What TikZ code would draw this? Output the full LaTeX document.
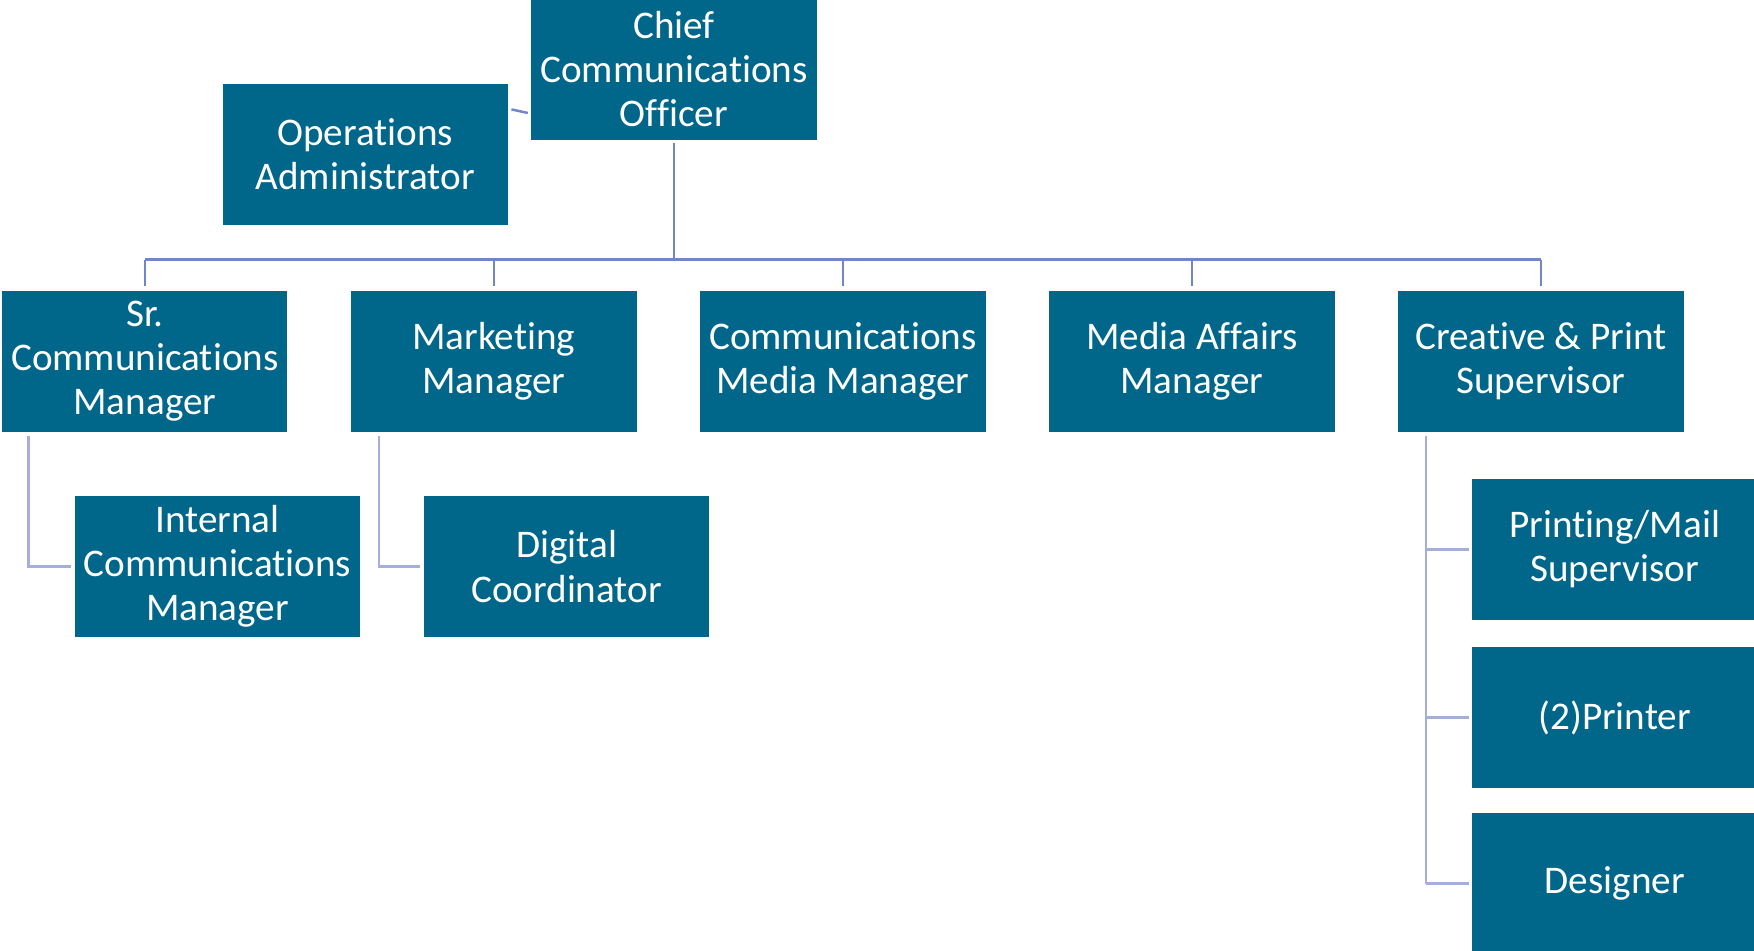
\documentclass[tikz,border=0pt]{standalone}
\usepackage{fontspec}
\setmainfont[RawFeature={-liga}]{Carlito}
\usetikzlibrary{calc}
\definecolor{boxfill}{RGB}{0,103,138}
\definecolor{busline}{RGB}{112,134,200}
\definecolor{subline}{RGB}{165,176,218}
\begin{document}
\begin{tikzpicture}[x=1pt,y=-1pt,
  role/.style={rectangle,fill=boxfill,text=white,minimum width=255pt,minimum height=126pt,
    inner sep=0pt,align=center,font=\fontsize{35}{39.5}\selectfont},
  bus/.style={draw=busline,line width=2.2pt},
  sub/.style={draw=subline,line width=2.6pt}]
\useasboundingbox (0,0) rectangle (1568,850);
\clip (0,0) rectangle (1568,850);
\fill[white] (0,0) rectangle (1568,850);

% top level and staff
\node[role] (cco) at (602.5,62) {Chief\\Communications\\Officer};
\node[role] (ops) at (326.5,138) {Operations\\Administrator};

% second level
\node[role] (sr) at (129.5,323) {Sr.\\Communications\\Manager};
\node[role] (mk) at (441.5,323) {Marketing\\Manager};
\node[role] (cm) at (753.5,323) {Communications\\Media Manager};
\node[role] (ma) at (1065.5,323) {Media Affairs\\Manager};
\node[role] (cp) at (1377.5,323) {Creative \& Print\\Supervisor};

% third level
\node[role] (ic) at (194.5,506.5) {Internal\\Communications\\Manager};
\node[role] (dc) at (506.5,506.5) {Digital\\Coordinator};
\node[role] (pm) at (1443.5,491) {Printing/Mail\\Supervisor};
\node[role] (pr) at (1443.5,641.5) {(2)Printer};
\node[role] (ds) at (1443.5,790) {Designer};

% reporting bus
\coordinate (busy) at (0,232);
\draw[bus,shorten <=3pt] (cco.south) -- (cco.south |- busy);
\draw[bus] (sr.north |- busy) -- (cp.north |- busy);
\foreach \n in {sr,mk,cm,ma,cp}
  \draw[bus,shorten >=4pt] (\n.north |- busy) -- (\n.north);

% staff link
\draw[bus] ($(ops.north east)+(3,23)$) -- ($(cco.west)+(-3,39)$);

% sub-level links
\draw[sub,shorten >=3pt] ($(sr.south west)+(24,4)$) |- (ic.west);
\draw[sub,shorten >=3pt] ($(mk.south west)+(25,4)$) |- (dc.west);
\coordinate (trunk) at ($(cp.south west)+(25,4)$);
\draw[sub] (trunk) -- (trunk |- ds.west);
\foreach \n in {pm,pr,ds}
  \draw[sub,shorten >=3pt] (trunk |- \n.west) -- (\n.west);
\end{tikzpicture}
\end{document}
